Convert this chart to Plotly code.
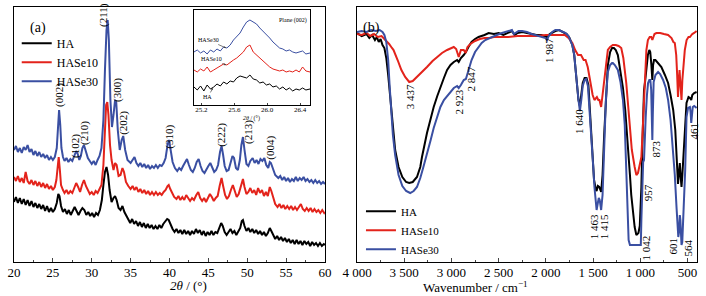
import plotly.graph_objects as go

# ---------------- XRD (panel a) ----------------
ha_tt = [20.0,20.25,20.5,20.75,21.0,21.25,21.5,21.75,22.0,22.25,22.5,22.75,23.0,23.25,23.5,23.75,24.0,24.25,24.5,24.75,25.0,25.25,25.5,25.7,25.85,26.05,26.3,26.55,26.8,27.05,27.3,27.55,27.8,28.05,28.3,28.55,28.8,29.05,29.3,29.55,29.8,30.05,30.3,30.55,30.8,31.05,31.3,31.5,31.7,31.9,32.1,32.3,32.55,32.8,33.0,33.2,33.45,33.7,33.95,34.2,34.45,34.7,34.95,35.2,35.45,35.7,35.95,36.2,36.45,36.7,36.95,37.2,37.45,37.7,37.95,38.2,38.45,38.7,38.95,39.2,39.45,39.7,39.9,40.15,40.4,40.65,40.9,41.15,41.4,41.65,41.9,42.15,42.4,42.65,42.9,43.15,43.4,43.65,43.9,44.15,44.4,44.65,44.9,45.15,45.4,45.65,45.9,46.15,46.4,46.65,46.85,47.1,47.35,47.6,47.85,48.1,48.35,48.6,48.85,49.1,49.3,49.45,49.65,49.9,50.15,50.4,50.65,50.9,51.15,51.4,51.65,51.9,52.15,52.4,52.65,52.9,53.1,53.35,53.6,53.85,54.1,54.35,54.6,54.85,55.1,55.35,55.6,55.85,56.1,56.35,56.6,56.85,57.1,57.35,57.6,57.85,58.1,58.35,58.6,58.85,59.1,59.35,59.6,59.85,60.0]
ha_int = [60,65,59,64,58,63,57,62,56,61,55,59,54,58,53,57,51,56,50,54,50,53,59,68,66,56,50,53,48,52,47,51,55,51,47,51,54,52,47,50,46,49,45,49,47,52,62,77,90,95,87,72,60,64,66,62,54,52,56,50,46,42,39,43,38,41,36,40,35,39,34,38,34,37,33,36,33,37,34,38,40,43,42,37,33,30,33,29,32,28,32,28,31,27,31,28,33,29,32,27,31,26,30,27,31,27,30,29,34,39,36,30,27,30,33,29,31,27,30,34,41,42,36,31,34,30,33,29,32,28,31,27,30,26,29,34,31,26,23,26,22,25,21,24,20,23,19,22,18,22,18,21,17,21,18,20,16,20,17,19,16,19,16,18,17]

se10_tt = [20.0,20.25,20.5,20.75,21.0,21.25,21.5,21.75,22.0,22.25,22.5,22.75,23.0,23.25,23.5,23.75,24.0,24.25,24.5,24.75,25.0,25.25,25.45,25.6,25.75,25.9,26.05,26.3,26.5,26.75,27.0,27.25,27.5,27.75,28.0,28.25,28.5,28.75,29.0,29.25,29.5,29.75,30.0,30.25,30.5,30.75,31.0,31.25,31.5,31.7,31.85,32.0,32.15,32.35,32.55,32.8,33.0,33.2,33.45,33.7,33.95,34.15,34.4,34.7,35.0,35.25,35.5,35.75,36.0,36.25,36.5,36.75,37.0,37.25,37.5,37.75,38.0,38.25,38.5,38.75,39.0,39.25,39.5,39.75,39.9,40.1,40.35,40.6,40.9,41.15,41.4,41.65,41.9,42.15,42.4,42.65,42.9,43.15,43.45,43.7,43.95,44.2,44.45,44.7,44.95,45.2,45.45,45.7,45.95,46.2,46.45,46.7,46.9,47.15,47.4,47.65,47.9,48.15,48.4,48.65,48.9,49.1,49.3,49.45,49.65,49.9,50.15,50.4,50.65,50.9,51.15,51.4,51.65,51.9,52.15,52.4,52.65,52.9,53.1,53.35,53.6,53.9,54.15,54.4,54.65,54.9,55.15,55.4,55.65,55.9,56.15,56.4,56.65,56.9,57.15,57.4,57.65,57.9,58.15,58.4,58.65,58.9,59.15,59.4,59.65,59.9,60.0]
se10_int = [85,81,86,80,84,79,90,81,78,82,77,81,76,80,75,79,74,78,73,76,72,75,82,97,105,92,77,72,69,72,68,71,69,74,79,75,70,77,82,76,71,68,70,67,71,69,73,77,97,132,157,160,147,117,102,92,99,97,86,87,94,90,80,76,73,76,72,75,70,73,69,72,68,71,67,70,67,70,67,69,67,70,72,76,77,73,68,65,63,66,62,65,62,67,64,61,64,62,67,70,64,61,64,60,64,68,65,61,64,66,76,84,76,67,63,66,72,77,71,65,68,74,81,83,75,68,70,74,69,72,67,74,69,72,66,70,66,75,71,63,58,55,58,54,57,53,56,53,56,52,55,52,55,58,53,51,54,51,54,50,53,50,52,49,52,49,50]

se30_tt = [20.0,20.25,20.5,20.75,21.0,21.25,21.5,21.75,22.0,22.25,22.5,22.75,23.0,23.25,23.5,23.75,24.0,24.25,24.5,24.75,25.0,25.25,25.5,25.65,25.8,25.95,26.1,26.3,26.5,26.75,27.0,27.25,27.5,27.75,28.0,28.2,28.4,28.6,28.8,29.0,29.2,29.5,29.75,30.0,30.25,30.5,30.75,31.0,31.25,31.5,31.7,31.9,32.05,32.2,32.4,32.6,32.8,33.0,33.15,33.35,33.6,33.85,34.05,34.3,34.6,35.0,35.25,35.5,35.75,36.0,36.25,36.5,36.75,37.0,37.25,37.5,37.75,38.0,38.25,38.5,38.75,39.0,39.25,39.5,39.75,39.95,40.15,40.4,40.7,41.0,41.25,41.5,41.75,42.0,42.25,42.5,42.75,43.0,43.25,43.5,43.75,44.0,44.25,44.5,44.75,45.0,45.25,45.5,45.75,46.0,46.25,46.5,46.7,46.9,47.1,47.35,47.6,47.85,48.1,48.3,48.55,48.8,49.05,49.25,49.45,49.65,49.9,50.15,50.4,50.7,50.95,51.2,51.45,51.7,51.95,52.2,52.45,52.7,52.9,53.05,53.3,53.6,54.0,54.25,54.5,54.75,55.0,55.25,55.5,55.75,56.0,56.25,56.5,56.75,57.0,57.25,57.5,57.75,58.0,58.25,58.5,58.75,59.0,59.25,59.5,59.75,60.0]
se30_int = [112,116,110,114,109,115,112,117,110,113,107,111,106,110,105,108,104,107,102,105,102,105,114,137,152,137,114,105,101,104,100,103,101,106,111,108,102,106,114,117,112,104,101,98,101,97,102,106,114,142,192,232,242,222,162,135,147,162,160,132,112,122,126,112,102,99,102,105,99,96,99,95,98,94,97,93,96,94,97,94,97,96,99,104,117,122,112,100,94,91,94,92,96,100,103,97,92,90,94,100,103,96,91,89,93,96,99,94,90,92,97,110,116,107,96,91,92,99,106,104,94,92,102,117,125,112,98,96,101,104,99,102,98,103,101,104,97,94,100,99,94,87,84,86,82,85,81,84,80,83,81,85,81,84,82,85,81,83,80,82,79,82,79,81,78,80,78]

xrd_peak_labels = ["(002)","(102)","(210)","(211)","(300)","(202)","(310)","(222)","(213)","(004)"]
xrd_peak_pos = [25.79,27.85,29.0,31.45,33.25,34.0,39.9,46.6,50.1,52.9]
xrd_label_y = [167,116,129,247,172,139,125,127,130,114]

# ---------------- inset (plane 002) ----------------
inset_tt = [25.11,25.15,25.19,25.23,25.27,25.31,25.35,25.39,25.43,25.47,25.51,25.55,25.59,25.63,25.67,25.71,25.75,25.79,25.83,25.87,25.91,25.95,25.99,26.03,26.07,26.11,26.15,26.19,26.23,26.27,26.31,26.35,26.39,26.43,26.47,26.52]
inset_ha = [18,15,19,14,20,16,18,21,19,23,21,24,23,27,29,28,27,30,26,25,22,23,20,21,18,19,16,18,15,17,14,16,15,17,15,16]
inset_se10 = [35,33,36,34,38,33,35,37,39,41,40,43,45,47,50,53,58,60,53,50,47,43,40,38,36,35,34,35,33,34,33,35,33,38,34,33]
inset_se30 = [53,55,52,54,51,55,53,56,54,58,57,60,65,69,72,78,83,85,83,81,77,74,71,67,63,60,57,56,54,55,53,52,53,54,51,52]

# ---------------- FTIR (panel b) ----------------
ftir_ha_wn = [4000,3950,3900,3870,3840,3810,3790,3770,3750,3730,3710,3690,3670,3650,3631,3596,3560,3520,3480,3447,3410,3365,3330,3312,3259,3230,3188,3150,3117,3080,3046,3010,2975,2940,2923,2900,2870,2847,2820,2787,2750,2713,2650,2606,2550,2500,2450,2400,2360,2330,2300,2250,2200,2150,2100,2050,2000,1987,1960,1900,1860,1820,1780,1750,1720,1700,1685,1670,1655,1640,1625,1610,1590,1570,1550,1530,1510,1490,1470,1463,1450,1435,1415,1400,1383,1365,1344,1320,1300,1280,1260,1238,1210,1184,1160,1131,1110,1096,1075,1060,1042,1020,1006,995,989,980,971,961,950,936,920,905,895,883,873,865,855,840,810,777,740,706,680,652,630,617,608,601,593,582,572,564,555,540,529,511,490,475,461,450,430,404]
ftir_ha_t = [229,226,228,224,227,222,225,220,223,217,214,204,187,167,145,112,95,85,80,79,80,85,95,105,129,140,155,166,175,184,192,197,200,202,200,204,207,210,215,220,223,225,227,229,228,229,227,229,231,227,229,230,229,228,227,227,226,225,228,231,232,230,228,224,217,207,194,177,162,156,167,179,184,184,177,147,112,82,72,71,76,75,70,87,127,167,197,210,214,214,212,207,192,174,152,119,87,67,47,35,27,29,36,57,75,112,152,172,180,195,207,212,210,197,182,197,202,202,199,195,187,179,167,152,132,112,92,78,87,99,84,75,87,112,129,159,165,164,162,167,169,170]

ftir_se10_wn = [4000,3950,3900,3860,3820,3780,3740,3720,3690,3660,3630,3613,3570,3530,3490,3447,3410,3365,3310,3259,3200,3152,3100,3046,3000,2975,2950,2923,2900,2870,2850,2830,2800,2750,2700,2650,2600,2550,2500,2400,2300,2200,2100,2000,1900,1800,1760,1720,1690,1660,1640,1628,1600,1580,1557,1530,1505,1486,1460,1445,1433,1415,1400,1383,1365,1344,1320,1291,1260,1230,1202,1180,1149,1130,1113,1090,1060,1042,1025,1005,989,975,961,950,936,920,901,885,873,865,850,830,790,750,706,670,650,635,620,610,601,595,585,575,564,555,540,529,510,490,475,450,430,404]
ftir_se10_t = [228,227,229,226,228,225,226,224,222,218,214,212,202,192,185,180,181,185,190,195,201,205,209,212,214,215,213,205,212,212,209,215,218,221,223,224,224,225,225,225,226,226,226,227,227,227,224,219,212,207,207,207,202,202,195,182,167,162,165,162,162,155,167,179,197,212,215,217,217,216,214,204,179,157,135,112,95,87,89,97,105,132,162,190,212,222,225,225,222,224,228,229,229,228,227,224,220,219,207,187,165,177,192,177,162,182,202,212,222,225,225,228,229,231]

ftir_se30_wn = [4000,3950,3900,3850,3800,3760,3730,3710,3690,3670,3655,3640,3620,3596,3560,3520,3480,3437,3400,3365,3330,3300,3259,3220,3188,3152,3117,3080,3046,3010,2975,2940,2923,2900,2870,2847,2820,2787,2750,2713,2680,2642,2600,2571,2520,2465,2420,2394,2360,2340,2323,2290,2252,2200,2150,2110,2060,2020,2004,1987,1970,1933,1900,1862,1820,1791,1760,1740,1720,1700,1685,1670,1655,1640,1625,1610,1590,1574,1555,1540,1521,1500,1486,1470,1463,1450,1440,1430,1415,1400,1383,1365,1344,1320,1300,1291,1270,1238,1210,1184,1165,1149,1135,1124,1110,1060,1020,995,989,983,978,970,961,955,943,930,918,905,894,885,878,873,868,859,840,812,790,759,730,706,680,652,635,617,605,598,590,582,576,570,564,556,548,536,525,511,495,475,468,461,455,445,430,404]
ftir_se30_t = [230,231,230,232,231,232,230,227,220,202,177,152,127,107,87,76,71,69,71,75,84,94,107,122,134,146,155,162,166,170,174,176,174,177,182,183,192,202,210,215,219,222,224,225,227,229,230,231,232,228,229,231,231,230,228,227,226,225,224,222,226,230,232,232,230,229,226,222,217,207,195,177,162,151,162,176,182,183,176,157,129,97,75,57,52,59,64,62,52,67,117,162,190,197,199,199,197,192,180,162,137,95,47,22,17,17,17,17,42,72,95,100,102,112,145,167,179,182,182,172,147,122,147,180,187,190,188,182,174,162,142,112,87,55,34,25,30,47,42,24,17,20,37,62,92,145,154,155,150,139,144,155,156,154]

ftir_labels = ["3 437","2 923","2 847","1 987","1 640","1 463","1 415","1 042","957","873","601","564","461"]
ftir_label_wn = [3436,2915,2798,1968,1649,1489,1383,936,915,830,649,500,436]
ftir_label_y = [165,160,183,212,140,35,35,14,69,113,16,14,131]

ftir_ticks = [4000,3500,3000,2500,2000,1500,1000,500]
ftir_ticktext = ["4 000","3 500","3 000","2 500","2 000","1 500","1 000","500"]

names = ["HA", "HASe10", "HASe30"]
colors = ["#000000", "#e3231b", "#3a4fa2"]

SERIF = "Liberation Serif, Times New Roman, serif"

fig = go.Figure()

xrd = [(ha_tt, ha_int), (se10_tt, se10_int), (se30_tt, se30_int)]
for (xs, ys), n, c in zip(xrd, names, colors):
    fig.add_trace(go.Scatter(x=xs, y=ys, mode="lines", name=n, line=dict(color=c, width=2),
                             xaxis="x", yaxis="y", legend="legend"))

for ys, n, c in zip([inset_ha, inset_se10, inset_se30], names, colors):
    fig.add_trace(go.Scatter(x=inset_tt, y=ys, mode="lines", name=n, line=dict(color=c, width=1),
                             xaxis="x3", yaxis="y3", showlegend=False))

ftir = [(ftir_ha_wn, ftir_ha_t), (ftir_se10_wn, ftir_se10_t), (ftir_se30_wn, ftir_se30_t)]
for (xs, ys), n, c in zip(ftir, names, colors):
    fig.add_trace(go.Scatter(x=xs, y=ys, mode="lines", name=n, line=dict(color=c, width=2),
                             xaxis="x2", yaxis="y2", legend="legend2"))

annotations = []
for lab, px, py in zip(xrd_peak_labels, xrd_peak_pos, xrd_label_y):
    annotations.append(dict(x=px, y=py, xref="x", yref="y", text=lab, textangle=-90,
                            showarrow=False, font=dict(family=SERIF, size=11, color="black")))
for lab, px, py in zip(ftir_labels, ftir_label_wn, ftir_label_y):
    annotations.append(dict(x=px, y=py, xref="x2", yref="y2", text=lab, textangle=-90,
                            showarrow=False, font=dict(family=SERIF, size=11, color="black")))

annotations += [
    dict(x=0.021, y=0.955, xref="paper", yref="paper", text="(a)", showarrow=False,
         font=dict(family=SERIF, size=14, color="black")),
    dict(x=0.524, y=0.958, xref="paper", yref="paper", text="(b)", showarrow=False,
         font=dict(family=SERIF, size=14, color="black")),
    dict(x=0.4085, y=0.9686, xref="paper", yref="paper", text="Plane (002)", showarrow=False,
         font=dict(family=SERIF, size=6, color="black")),
    dict(x=25.5, y=57, xref="x3", yref="y3", text="HASe30", showarrow=True, ax=-18, ay=-8,
         arrowhead=2, arrowsize=0.6, arrowwidth=0.7, font=dict(family=SERIF, size=6, color="black")),
    dict(x=25.5, y=40, xref="x3", yref="y3", text="HASe10", showarrow=True, ax=-15, ay=-6,
         arrowhead=2, arrowsize=0.6, arrowwidth=0.7, font=dict(family=SERIF, size=6, color="black")),
    dict(x=25.34, y=17, xref="x3", yref="y3", text="HA", showarrow=True, ax=-5, ay=9,
         arrowhead=2, arrowsize=0.6, arrowwidth=0.7, font=dict(family=SERIF, size=6, color="black")),
    # axis titles
    dict(x=0.2262, y=-0.094, xref="paper", yref="paper", text="<i>2θ</i> / (°)", showarrow=False,
         yanchor="middle", font=dict(family=SERIF, size=13, color="black")),
    dict(x=0.755, y=-0.098, xref="paper", yref="paper", text="Wavenumber / cm<sup>−1</sup>", showarrow=False,
         yanchor="middle", font=dict(family=SERIF, size=13, color="black")),
    dict(x=0.5, y=-0.08, xref="x3 domain", yref="y3 domain", text="<i>2θ</i> / (°)", showarrow=False,
         xanchor="center", yanchor="top", font=dict(family=SERIF, size=6, color="black")),
]

axis_common = dict(showline=True, linecolor="black", linewidth=1.2, mirror=True,
                   showgrid=False, zeroline=False, automargin=False)

fig.update_layout(
    template="none",
    width=706, height=296,
    margin=dict(l=14, r=9, t=7, b=34, autoexpand=False),
    paper_bgcolor="white", plot_bgcolor="white",
    font=dict(family=SERIF, color="black"),
    xaxis=dict(domain=[0, 0.4553], range=[20, 60], anchor="y", dtick=5, ticks="inside", ticklen=4,
               minor=dict(ticks="inside", ticklen=2, dtick=2.5),
               tickfont=dict(size=13, family=SERIF), ticklabelstandoff=-2,
               **axis_common),
    yaxis=dict(domain=[0, 1], range=[0, 255], anchor="x", showticklabels=False, ticks="", **axis_common),
    xaxis2=dict(domain=[0.5022, 1], range=[4000, 400], anchor="y2", tickvals=ftir_ticks, ticktext=ftir_ticktext,
                ticks="inside", ticklen=4, minor=dict(ticks="inside", ticklen=2, dtick=250),
                tickfont=dict(size=13, family=SERIF), ticklabelstandoff=-2,
                **axis_common),
    yaxis2=dict(domain=[0, 1], range=[0, 255], anchor="x2", showticklabels=False, ticks="", **axis_common),
    xaxis3=dict(domain=[0.2635, 0.4334], range=[25.11, 26.52], anchor="y3", tickvals=[25.2, 25.6, 26.0, 26.4],
                ticktext=["25.2", "25.6", "26.0", "26.4"], ticks="inside", ticklen=2,
                tickfont=dict(size=7, family=SERIF), ticklabelstandoff=-2,
                showline=True, linecolor="black", linewidth=0.8, mirror=True, showgrid=False, zeroline=False,
                automargin=False),
    yaxis3=dict(domain=[0.6157, 0.9882], range=[0, 95], anchor="x3", showticklabels=False, ticks="",
                showline=True, linecolor="black", linewidth=0.8, mirror=True, showgrid=False, zeroline=False,
                automargin=False),
    legend=dict(x=0.004, y=0.915, xanchor="left", yanchor="top", bgcolor="rgba(0,0,0,0)",
                font=dict(family=SERIF, size=12, color="black"), itemwidth=30, tracegroupgap=0),
    legend2=dict(x=0.508, y=0.256, xanchor="left", yanchor="top", bgcolor="rgba(0,0,0,0)",
                 font=dict(family=SERIF, size=11, color="black"), itemwidth=30, tracegroupgap=0),
    annotations=annotations,
    showlegend=True,
)

fig.write_html("out.html", config={"displayModeBar": False},
               post_script="document.body.style.margin='0px';document.body.style.padding='0px';")
